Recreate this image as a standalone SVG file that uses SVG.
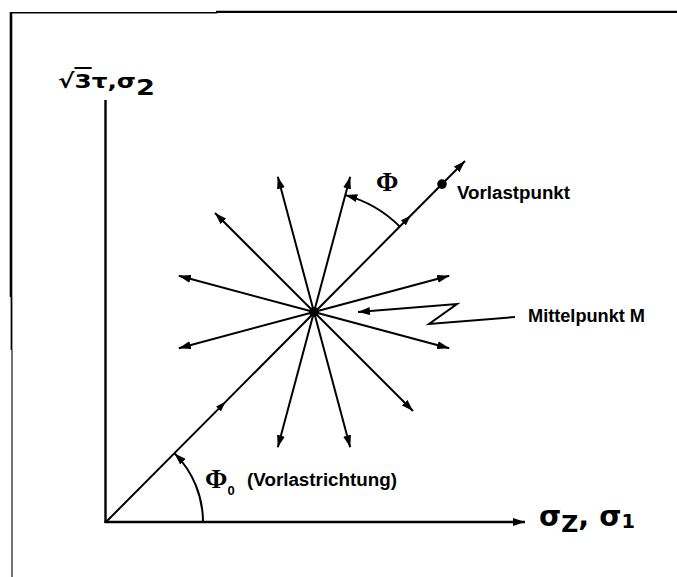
<svg xmlns="http://www.w3.org/2000/svg" width="677" height="577" viewBox="0 0 677 577">
<style>
.ln{fill:none;stroke:#000;stroke-width:2;stroke-linecap:butt}
.ax{fill:none;stroke:#000;stroke-width:2.4}
.lbl{font-family:"Liberation Sans",Arial,sans-serif;font-weight:bold;font-size:18px;fill:#000}
.phi{font-family:"Liberation Serif","Times New Roman",serif;font-weight:bold;font-size:27px;fill:#000}
.sym{font-family:"DejaVu Sans",sans-serif;font-weight:bold;fill:#000}
</style>
<defs>
<marker id="ah" viewBox="0 0 12 8" refX="12" refY="4" markerWidth="12" markerHeight="8" markerUnits="userSpaceOnUse" orient="auto">
<path d="M0,0 L12,4 L0,8 z" fill="#000"/>
</marker>
<marker id="am" viewBox="0 0 10 7" refX="5" refY="3.5" markerWidth="10" markerHeight="7" markerUnits="userSpaceOnUse" orient="auto">
<path d="M0,0 L10,3.5 L0,7 z" fill="#000"/>
</marker>
</defs>
<rect width="677" height="577" fill="#fff"/>
<g id="frame">
<line x1="10" y1="12.7" x2="217" y2="12.7" stroke="#000" stroke-width="1.6"/>
<line x1="216" y1="11.8" x2="677" y2="11.8" stroke="#000" stroke-width="2.2"/>
<line x1="11" y1="12" x2="11" y2="297" stroke="#000" stroke-width="2.6"/>
<line x1="11.5" y1="297" x2="11.5" y2="350" stroke="#000" stroke-width="1.8"/>
<line x1="12" y1="350" x2="12" y2="577" stroke="#666" stroke-width="1.8"/>
</g>
<g id="axes">
<line class="ax" x1="105.5" y1="100" x2="105.5" y2="523"/>
<line class="ax" x1="104.5" y1="522" x2="525" y2="522" marker-end="url(#ah)"/>
</g>
<g id="connectors">
<polyline class="ln" points="106,522 222,405.4 407,219.3 465,161" marker-mid="url(#am)" marker-end="url(#ah)"/>
<line class="ln" x1="314" y1="312" x2="449.2" y2="275.8" marker-end="url(#ah)"/>
<line class="ln" x1="314" y1="312" x2="350.2" y2="176.8" marker-end="url(#ah)"/>
<line class="ln" x1="314" y1="312" x2="277.8" y2="176.8" marker-end="url(#ah)"/>
<line class="ln" x1="314" y1="312" x2="215" y2="213" marker-end="url(#ah)"/>
<line class="ln" x1="314" y1="312" x2="178.8" y2="275.8" marker-end="url(#ah)"/>
<line class="ln" x1="314" y1="312" x2="178.8" y2="348.2" marker-end="url(#ah)"/>
<line class="ln" x1="314" y1="312" x2="277.8" y2="447.2" marker-end="url(#ah)"/>
<line class="ln" x1="314" y1="312" x2="350.2" y2="447.2" marker-end="url(#ah)"/>
<line class="ln" x1="314" y1="312" x2="413" y2="411" marker-end="url(#ah)"/>
<line class="ln" x1="314" y1="312" x2="449.2" y2="348.2" marker-end="url(#ah)"/>
<path class="ln" d="M399.6,226.4 A121,121 0 0,0 345.3,195.1" marker-end="url(#ah)"/>
<path class="ln" d="M203,522 A97,97 0 0,0 174.6,453.4" marker-end="url(#ah)"/>
<polyline class="ln" points="515,317 429,324 457,304 358,312" marker-end="url(#ah)"/>
</g>
<g id="node-center">
<circle cx="314" cy="312" r="5" fill="#000"/>
</g>
<g id="node-vorlastpunkt">
<circle cx="442" cy="184.1" r="4.8" fill="#000"/>
<text class="lbl" x="457" y="199" textLength="113" lengthAdjust="spacingAndGlyphs">Vorlastpunkt</text>
</g>
<g id="label-mittelpunkt">
<text class="lbl" x="528" y="322" textLength="117" lengthAdjust="spacingAndGlyphs">Mittelpunkt M</text>
</g>
<g id="label-phi">
<text class="phi" x="376" y="191">Φ</text>
</g>
<g id="label-phi0">
<text class="phi" x="205" y="488">Φ<tspan font-family="Liberation Sans, Arial, sans-serif" font-size="13" dy="7">0</tspan></text>
<text class="lbl" x="247" y="486" textLength="150" lengthAdjust="spacingAndGlyphs">(Vorlastrichtung)</text>
</g>
<g id="label-yaxis">
<text class="sym" x="58" y="88" font-size="20" textLength="97" lengthAdjust="spacingAndGlyphs">√<tspan text-decoration="overline">3</tspan>τ,σ<tspan font-size="22" dy="7">2</tspan></text>
</g>
<g id="label-xaxis">
<text class="sym" x="539" y="526" font-size="28" textLength="96" lengthAdjust="spacingAndGlyphs">σ<tspan font-size="23" dy="6">Z</tspan><tspan dy="-6">, σ</tspan><tspan font-size="19" dy="2">1</tspan></text>
</g>
</svg>
